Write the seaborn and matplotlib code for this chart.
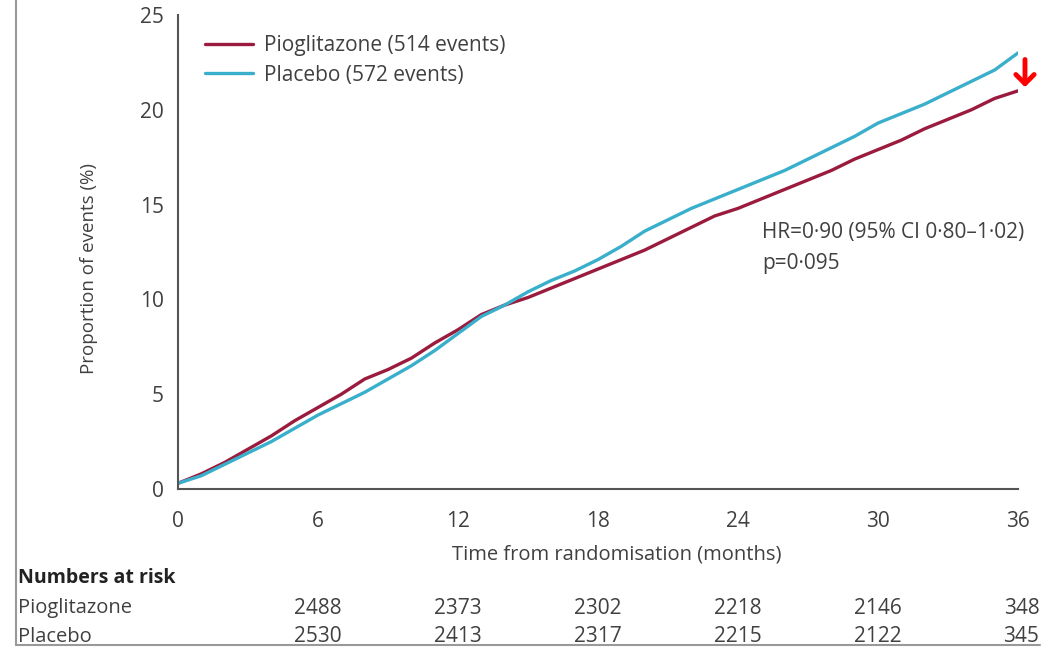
import matplotlib
matplotlib.use("Agg")
import matplotlib.pyplot as plt
from matplotlib.lines import Line2D
from matplotlib.transforms import blended_transform_factory
import seaborn as sns
import pandas as pd

# ---- data ----
months = list(range(0, 37))
pioglitazone = [0.3, 0.8, 1.4, 2.1, 2.8, 3.6, 4.3, 5.0, 5.8, 6.3, 6.9, 7.7, 8.4,
                9.2, 9.7, 10.1, 10.6, 11.1, 11.6, 12.1, 12.6, 13.2, 13.8, 14.4, 14.8,
                15.3, 15.8, 16.3, 16.8, 17.4, 17.9, 18.4, 19.0, 19.5, 20.0, 20.6, 21.0]
placebo = [0.3, 0.7, 1.3, 1.9, 2.5, 3.2, 3.9, 4.5, 5.1, 5.8, 6.5, 7.3, 8.2,
           9.1, 9.7, 10.4, 11.0, 11.5, 12.1, 12.8, 13.6, 14.2, 14.8, 15.3, 15.8,
           16.3, 16.8, 17.4, 18.0, 18.6, 19.3, 19.8, 20.3, 20.9, 21.5, 22.1, 23.0]
series_labels = ["Pioglitazone (514 events)", "Placebo (572 events)"]
risk_months = [6, 12, 18, 24, 30, 36]
risk_pioglitazone = [2488, 2373, 2302, 2218, 2146, 348]
risk_placebo = [2530, 2413, 2317, 2215, 2122, 345]
x_ticks = [0, 6, 12, 18, 24, 30, 36]
y_ticks = [0, 5, 10, 15, 20, 25]

df = pd.DataFrame({
    "month": months * 2,
    "value": pioglitazone + placebo,
    "group": [series_labels[0]] * len(months) + [series_labels[1]] * len(months),
})

sns.set_theme(style="white")
fam = ["Open Sans", "DejaVu Sans"]
plt.rcParams["font.family"] = fam

RED = "#9b1b3e"
BLUE = "#3aafcb"
TXT = "#404040"
AX = "#555555"

fig = plt.figure(figsize=(10.46, 6.47), dpi=100)
ax = fig.add_axes([178 / 1046, 1 - 489 / 647, (1018 - 178) / 1046, (489 - 15) / 647])

sns.lineplot(data=df, x="month", y="value", hue="group", hue_order=series_labels,
             palette=[RED, BLUE], linewidth=2.4, ax=ax, legend=True)

ax.set_xlim(0, 36)
ax.set_ylim(0, 25)
ax.set_xticks(x_ticks)
ax.set_yticks(y_ticks)
ax.tick_params(axis="both", colors=AX, labelcolor=TXT, labelsize=15, width=1.5, length=7)
ax.tick_params(axis="x", pad=9)
ax.tick_params(axis="y", pad=3)
for s in ["top", "right"]:
    ax.spines[s].set_visible(False)
for s in ["left", "bottom"]:
    ax.spines[s].set_color(AX)
    ax.spines[s].set_linewidth(1.5)

ax.set_xlabel("Time from randomisation (months)", fontsize=14.5, color=TXT, labelpad=9)
ax.xaxis.label.set_x((617 - 178) / 840)
ax.set_ylabel("Proportion of events (%)", fontsize=13.5, color=TXT, labelpad=30)
ax.yaxis.label.set_y((489 - 268) / 474)

leg = ax.legend(loc="upper left", bbox_to_anchor=(0.022, 0.975), frameon=False,
                fontsize=15, handlelength=2.3, handletextpad=0.55, labelspacing=0.4,
                borderaxespad=0)
for t in leg.get_texts():
    t.set_color(TXT)

ax.text(25.05, 13.55, "HR=0·90 (95% CI 0·80–1·02)", fontsize=15, color=TXT, va="center", ha="left")
ax.text(25.05, 11.9, "p=0·095", fontsize=15, color=TXT, va="center", ha="left")

ax.annotate("", xy=(36.3, 21.05), xytext=(36.3, 22.8),
            arrowprops=dict(arrowstyle="->,head_length=0.55,head_width=0.55", color="#ff0000", lw=3.5),
            annotation_clip=False)

# numbers at risk
fig.text(18 / 1046, 1 - 578 / 647, "Numbers at risk", fontsize=14, fontweight="bold", color="#222222", va="center", ha="left")
fig.text(18 / 1046, 1 - 608 / 647, "Pioglitazone", fontsize=14.5, color=TXT, va="center", ha="left")
fig.text(18 / 1046, 1 - 637 / 647, "Placebo", fontsize=14.5, color=TXT, va="center", ha="left")
btr = blended_transform_factory(ax.transData, fig.transFigure)
for m, a, b in zip(risk_months, risk_pioglitazone, risk_placebo):
    xx = m + (0.15 if m == 36 else 0)
    ax.text(xx, 1 - 608 / 647, str(a), transform=btr, fontsize=15, color=TXT,
            ha="center", va="center", clip_on=False)
    ax.text(xx, 1 - 637 / 647, str(b), transform=btr, fontsize=15, color=TXT,
            ha="center", va="center", clip_on=False)

# frame lines of the original clipping
fig.add_artist(Line2D([16 / 1046, 16 / 1046], [0.003, 1.0], color="#999999", lw=1.5))
fig.add_artist(Line2D([16 / 1046, 1040 / 1046], [0.003, 0.003], color="#999999", lw=1.5))

fig.savefig("out.png", dpi=100)
